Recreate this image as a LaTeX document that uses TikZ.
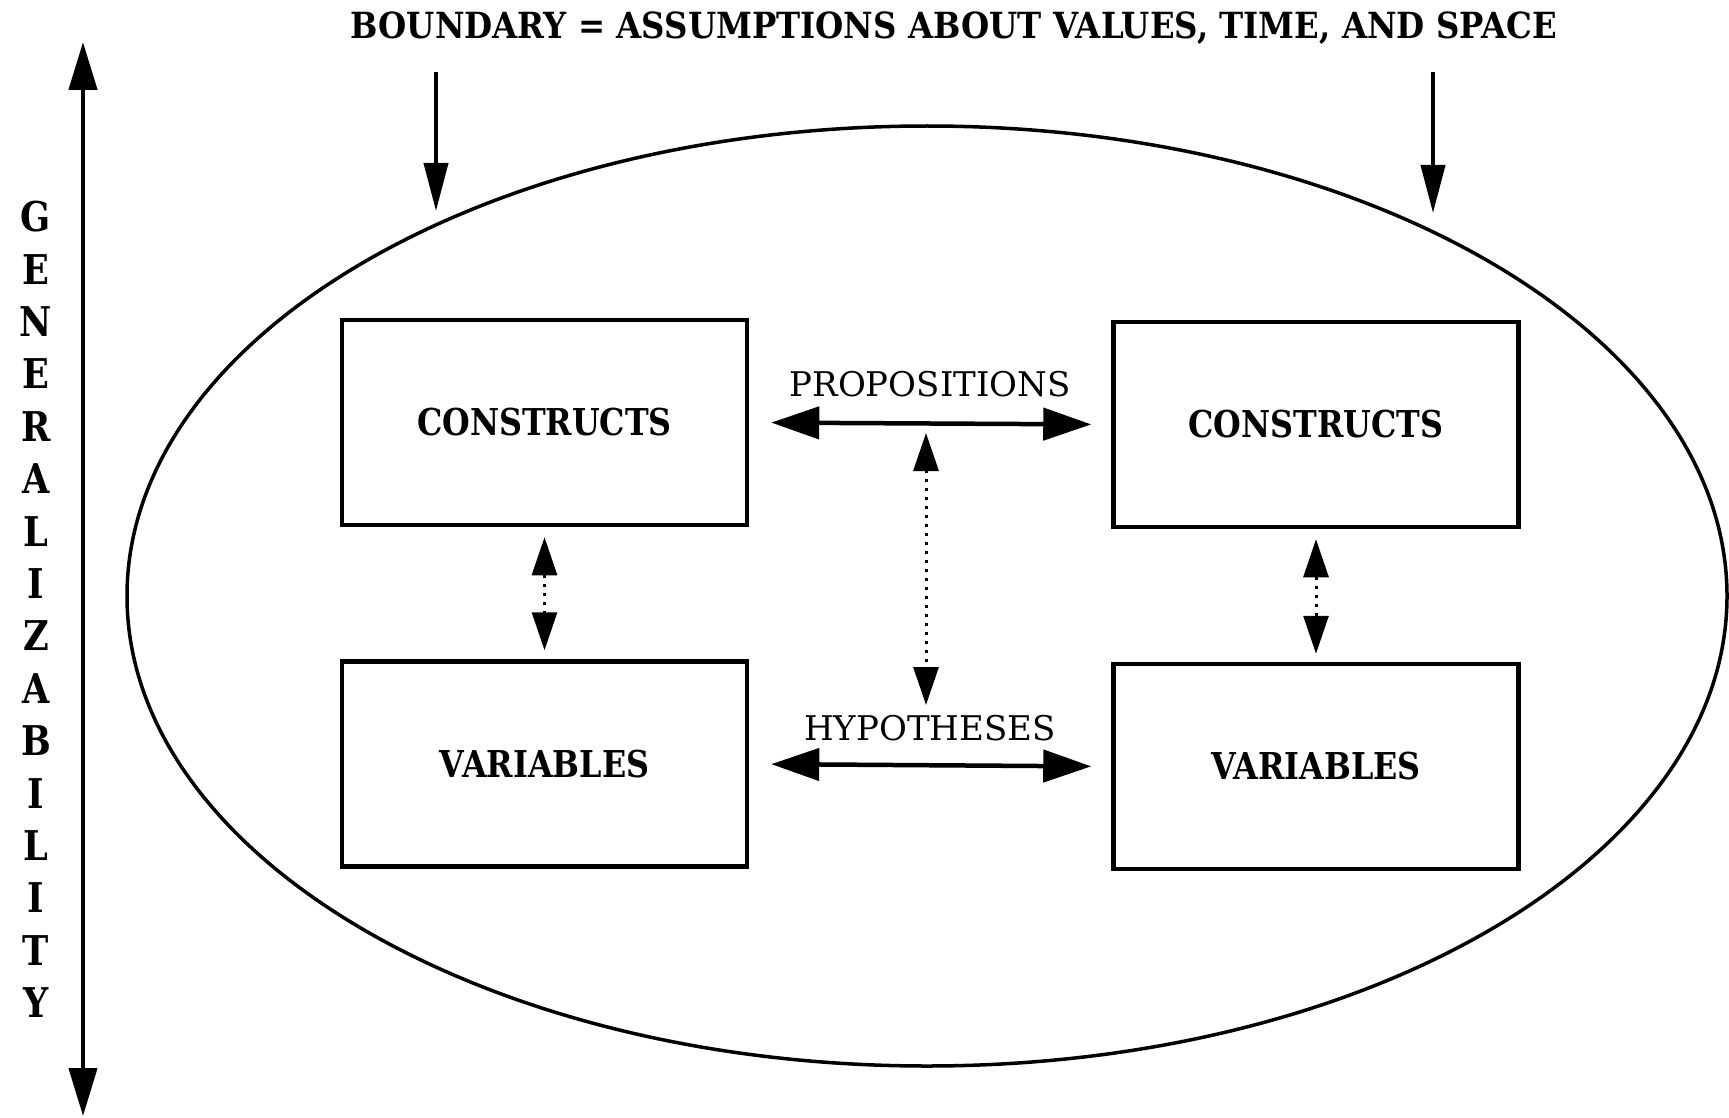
\documentclass[tikz,border=0pt]{standalone}
\usepackage{fontspec}
\setmainfont{DejaVu Serif}[FakeStretch=0.86]
\newfontfamily\lblfont{DejaVu Serif}
\newfontfamily\titlefont{DejaVu Serif}[FakeStretch=0.9]
\usetikzlibrary{arrows.meta}
\begin{document}
\begin{tikzpicture}[x=1pt,y=-1pt,
  box/.style={draw, line width=4.5pt, minimum width=405pt, minimum height=205pt, inner sep=0pt,
    font=\bfseries\fontsize{37}{40}\selectfont},
  lbl/.style={inner sep=0pt, font=\lblfont\fontsize{34}{36}\selectfont},
  bigarrow/.style={line width=4.5pt, {Triangle[length=48pt,width=32pt]}-{Triangle[length=48pt,width=32pt]}},
  dotarrow/.style={line width=3pt, dash pattern=on 3pt off 6pt,
    {Triangle[length=38pt,width=25pt]}-{Triangle[length=38pt,width=25pt]}},
  downarrow/.style={line width=4pt, -{Triangle[length=48pt,width=24pt]}},
  genarrow/.style={line width=4.5pt, {Triangle[length=48pt,width=28pt]}-{Triangle[length=48pt,width=28pt]}}
]
\useasboundingbox (0,0) rectangle (1729,1118);
\fill[white] (0,0) rectangle (1729,1118);

% title
\node[inner sep=0pt, font=\titlefont\bfseries\fontsize{36}{38}\selectfont] (title) at (954,28)
  {BOUNDARY = ASSUMPTIONS ABOUT VALUES, TIME, AND SPACE};

% boundary ellipse
\draw[line width=3.5pt] (927,596) ellipse [x radius=800pt, y radius=470pt];

% boundary arrows
\coordinate (b1s) at (436,72);
\coordinate (b1e) at (436,211);
\coordinate (b2s) at (1433,72);
\coordinate (b2e) at (1433,213);
\draw[downarrow] (b1s) -- (b1e);
\draw[downarrow] (b2s) -- (b2e);

% generalizability axis
\coordinate (gtop) at (83,42);
\coordinate (gbot) at (83,1116);
\draw[genarrow] (gbot) -- (gtop);
\node[inner sep=0pt, align=center, anchor=north, font=\bfseries\fontsize{41}{52.4}\selectfont] (gen) at (36,201)
  {G\\E\\N\\E\\R\\A\\L\\I\\Z\\A\\B\\I\\L\\I\\T\\Y};

% boxes
\node[box] (c1) at (544.5,422.5) {CONSTRUCTS};
\node[box] (c2) at (1316,424.5) {CONSTRUCTS};
\node[box] (v1) at (544.5,764) {VARIABLES};
\node[box] (v2) at (1316,766.5) {VARIABLES};

% propositions / hypotheses
\draw[bigarrow, shorten <=22pt, shorten >=20pt] (c1.east) -- (c2.west);
\draw[bigarrow, shorten <=22pt, shorten >=20pt] (v1.east) -- (v2.west);
\node[lbl] (prop) at (930,384) {PROPOSITIONS};
\node[lbl] (hyp) at (930,728) {HYPOTHESES};

\coordinate (pt) at (926,433);
\coordinate (pb) at (926,705);
\draw[dotarrow] (pt) -- (pb);

\draw[dotarrow, shorten <=10pt, shorten >=9pt] (c1.south) -- (v1.north);
\draw[dotarrow, shorten <=10pt, shorten >=8pt] (c2.south) -- (v2.north);
\end{tikzpicture}
\end{document}
